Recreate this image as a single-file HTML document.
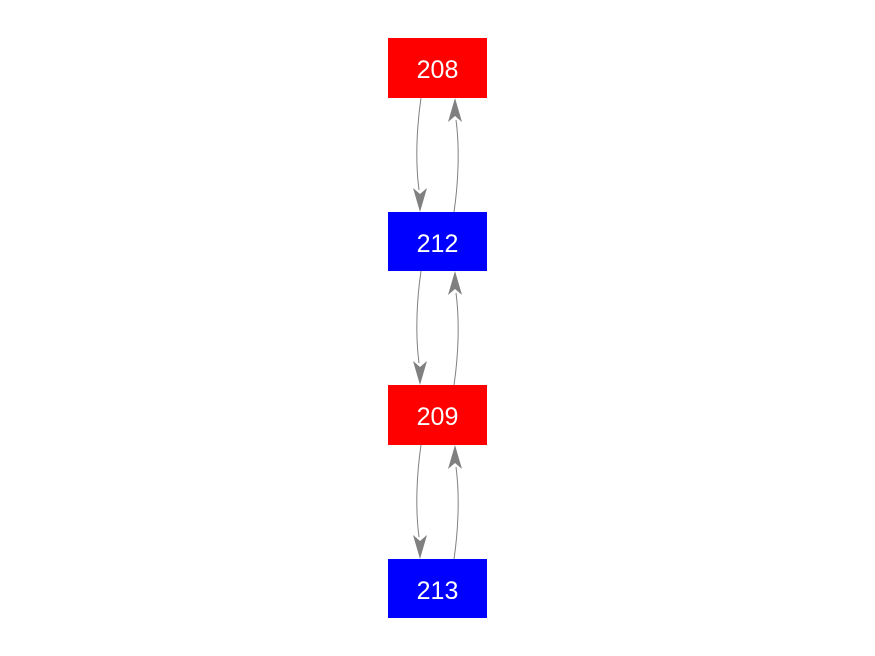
<!DOCTYPE html>
<html><head><style>
body{margin:0;background:#fff;}
svg{display:block;}
text{font-family:"Liberation Sans",Arial,sans-serif;font-size:25px;fill:#fff;}
</style></head><body>
<svg width="875" height="656" viewBox="0 0 875 656">
<rect x="388" y="38" width="99" height="60" fill="#ff0000"/>
<text x="437.5" y="78" text-anchor="middle">208</text>
<rect x="388" y="212" width="99" height="59" fill="#0000ff"/>
<text x="437.5" y="252" text-anchor="middle">212</text>
<rect x="388" y="385" width="99" height="60" fill="#ff0000"/>
<text x="437.5" y="425" text-anchor="middle">209</text>
<rect x="388" y="559" width="99" height="59" fill="#0000ff"/>
<text x="437.5" y="599" text-anchor="middle">213</text>
<g fill="none" stroke="#808080" stroke-width="1">
<path d="M421,98 C417,125 415,160 419,190"/>
<path d="M454,212 C458,185 460,150 456,120"/>
<path d="M421,271 C417,298 415,333 419,363"/>
<path d="M454,385 C458,358 460,323 456,293"/>
<path d="M421,445 C417,472 415,507 419,537"/>
<path d="M454,559 C458,532 460,497 456,467"/>
</g>
<g fill="#808080">
<polygon points="420,212 413,188 420,194 427,188"/>
<polygon points="455,98 448,122 455,116 462,122"/>
<polygon points="420,385 413,361 420,367 427,361"/>
<polygon points="455,271 448,295 455,289 462,295"/>
<polygon points="420,559 413,535 420,541 427,535"/>
<polygon points="455,445 448,469 455,463 462,469"/>
</g>
</svg>
</body></html>
